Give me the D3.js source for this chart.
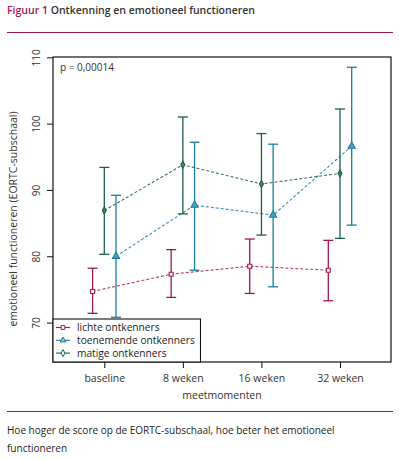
<!DOCTYPE html>
<html><head><meta charset="utf-8">
<script src="https://cdn.jsdelivr.net/npm/d3@7/dist/d3.min.js"></script>
<style>body{margin:0;background:#fff}svg{display:block}text{font-family:"Open Sans","Noto Sans",sans-serif}</style>
</head><body><svg id="c" width="399" height="461"></svg>
<script>
const categories = ["baseline","8 weken","16 weken","32 weken"];
const seriesNames = ["lichte ontkenners","toenemende ontkenners","matige ontkenners"];
const lichte = [74.7, 77.3, 78.5, 77.9];
const lichteLo = [71.4, 73.8, 74.4, 73.3];
const lichteHi = [78.2, 81.0, 82.6, 82.4];
const toenemende = [80.0, 87.7, 86.2, 96.6];
const toenemendeLo = [70.8, 77.9, 75.4, 84.7];
const toenemendeHi = [89.2, 97.2, 96.9, 108.5];
const matige = [86.9, 93.8, 90.9, 92.5];
const matigeLo = [80.3, 86.4, 83.2, 82.7];
const matigeHi = [93.4, 101.0, 98.5, 102.2];
const yTicks = [70, 80, 90, 100, 110];

const crimson = "#a0174f", teal = "#1c7c9e", green = "#1c5e45";
const series = [
  {name: seriesNames[0], v: lichte, lo: lichteLo, hi: lichteHi, color: crimson, off: -11.7, sym: "square"},
  {name: seriesNames[1], v: toenemende, lo: toenemendeLo, hi: toenemendeHi, color: teal, off: 11.7, sym: "triangle"},
  {name: seriesNames[2], v: matige, lo: matigeLo, hi: matigeHi, color: green, off: 0, sym: "diamond"}
];

const svg = d3.select("#c");
const L = 53, R = 391, T = 57, B = 362;
const y = d3.scaleLinear().domain([70, 110]).range([322.6, 57.3]);
const x = d3.scalePoint().domain(categories).range([104.3, 340]);

// title
const t = svg.append("text").attr("x", 7).attr("y", 14).attr("font-size", 10.5);
t.append("tspan").attr("fill", crimson).attr("font-weight", 600).text("Figuur 1 ");
t.append("tspan").attr("fill", "#333").attr("font-weight", 600).text(" Ontkenning en emotioneel functioneren");
svg.append("line").attr("x1", 7).attr("x2", 393).attr("y1", 32.5).attr("y2", 32.5).attr("stroke", crimson).attr("stroke-width", 1);

// frame
svg.append("rect").attr("x", L).attr("y", T).attr("width", R - L).attr("height", B - T)
  .attr("fill", "none").attr("stroke", "#111").attr("stroke-width", 1.2);

// y axis
const yAxis = d3.axisLeft(y).tickValues(yTicks).tickSize(6).tickPadding(3).tickFormat(d3.format("d"));
const ga = svg.append("g").attr("transform", `translate(${L},0)`).call(yAxis);
ga.select(".domain").remove();
ga.selectAll(".tick line").attr("stroke", "#111");
ga.selectAll(".tick text").attr("font-size", 10).attr("fill", "#333")
  .attr("transform", "translate(-13,0) rotate(-90)").attr("x", 0).attr("y", 0)
  .attr("text-anchor", "middle").attr("dy", "0");

svg.append("text").attr("transform", "translate(17,219) rotate(-90)").attr("text-anchor", "middle")
  .attr("font-size", 10.5).attr("fill", "#333").text("emotioneel functioneren (EORTC-subschaal)");

// x axis
const xAxis = d3.axisBottom(x).tickSize(6).tickPadding(7);
const gx = svg.append("g").attr("transform", `translate(0,${B})`).call(xAxis);
gx.select(".domain").remove();
gx.selectAll(".tick line").attr("stroke", "#111");
gx.selectAll(".tick text").attr("font-size", 10.5).attr("fill", "#333");
svg.append("text").attr("x", 222).attr("y", 399).attr("text-anchor", "middle")
  .attr("font-size", 10.5).attr("fill", "#333").text("meetmomenten");

// p-value
svg.append("text").attr("x", 60).attr("y", 71).attr("font-size", 10).attr("fill", "#333").text("p = 0,00014");

// series
const symType = {square: d3.symbolSquare, triangle: d3.symbolTriangle, diamond: d3.symbolDiamond};
series.forEach(s => {
  const px = i => x(categories[i]) + s.off;
  const g = svg.append("g");
  s.v.forEach((v, i) => {
    const cx = px(i);
    g.append("line").attr("x1", cx).attr("x2", cx).attr("y1", y(s.lo[i])).attr("y2", y(s.hi[i])).attr("stroke", s.color).attr("stroke-width", 1.3);
    [s.lo[i], s.hi[i]].forEach(e => g.append("line").attr("x1", cx - 5).attr("x2", cx + 5).attr("y1", y(e)).attr("y2", y(e)).attr("stroke", s.color).attr("stroke-width", 1.3));
  });
  const line = d3.line().x((d, i) => px(i)).y(d => y(d));
  g.append("path").datum(s.v).attr("d", line).attr("fill", "none").attr("stroke", s.color)
    .attr("stroke-width", 1.1).attr("stroke-dasharray", "3,2").attr("opacity", 0.85);
  s.v.forEach((v, i) => {
    const size = s.sym === "square" ? 16 : (s.sym === "triangle" ? 22 : 14);
    g.append("path").attr("d", d3.symbol().type(symType[s.sym]).size(size)())
      .attr("transform", `translate(${px(i)},${y(v)})`)
      .attr("fill", s.sym === "triangle" ? "#4aa3c6" : (s.sym === "diamond" ? "#4a8a6c" : "#fff"))
      .attr("stroke", s.color).attr("stroke-width", 1.1);
  });
});

// legend
const lg = svg.append("g");
lg.append("rect").attr("x", L).attr("y", 319).attr("width", 147.5).attr("height", B - 319)
  .attr("fill", "#fff").attr("stroke", "#111").attr("stroke-width", 1.1);
series.forEach((s, i) => {
  const yy = 327.5 + i * 12.8;
  lg.append("line").attr("x1", 56).attr("x2", 70).attr("y1", yy).attr("y2", yy).attr("stroke", s.color).attr("stroke-width", 1.1);
  lg.append("path").attr("d", d3.symbol().type(symType[s.sym]).size(14)())
    .attr("transform", `translate(63,${yy})`)
    .attr("fill", s.sym === "triangle" ? "#8cc3d8" : "#fff").attr("stroke", s.color).attr("stroke-width", 1);
  lg.append("text").attr("x", 77).attr("y", yy + 3.8).attr("font-size", 10.2)
    .attr("font-family", "'Liberation Sans', Arial, sans-serif").attr("fill", "#222").text(s.name);
});

// bottom rule + footnote
svg.append("line").attr("x1", 7).attr("x2", 393).attr("y1", 411.5).attr("y2", 411.5).attr("stroke", crimson).attr("stroke-width", 1);
svg.append("text").attr("x", 7).attr("y", 434).attr("font-size", 10).attr("fill", "#222")
  .text("Hoe hoger de score op de EORTC-subschaal, hoe beter het emotioneel");
svg.append("text").attr("x", 7).attr("y", 452).attr("font-size", 10).attr("fill", "#222").text("functioneren");
</script></body></html>
